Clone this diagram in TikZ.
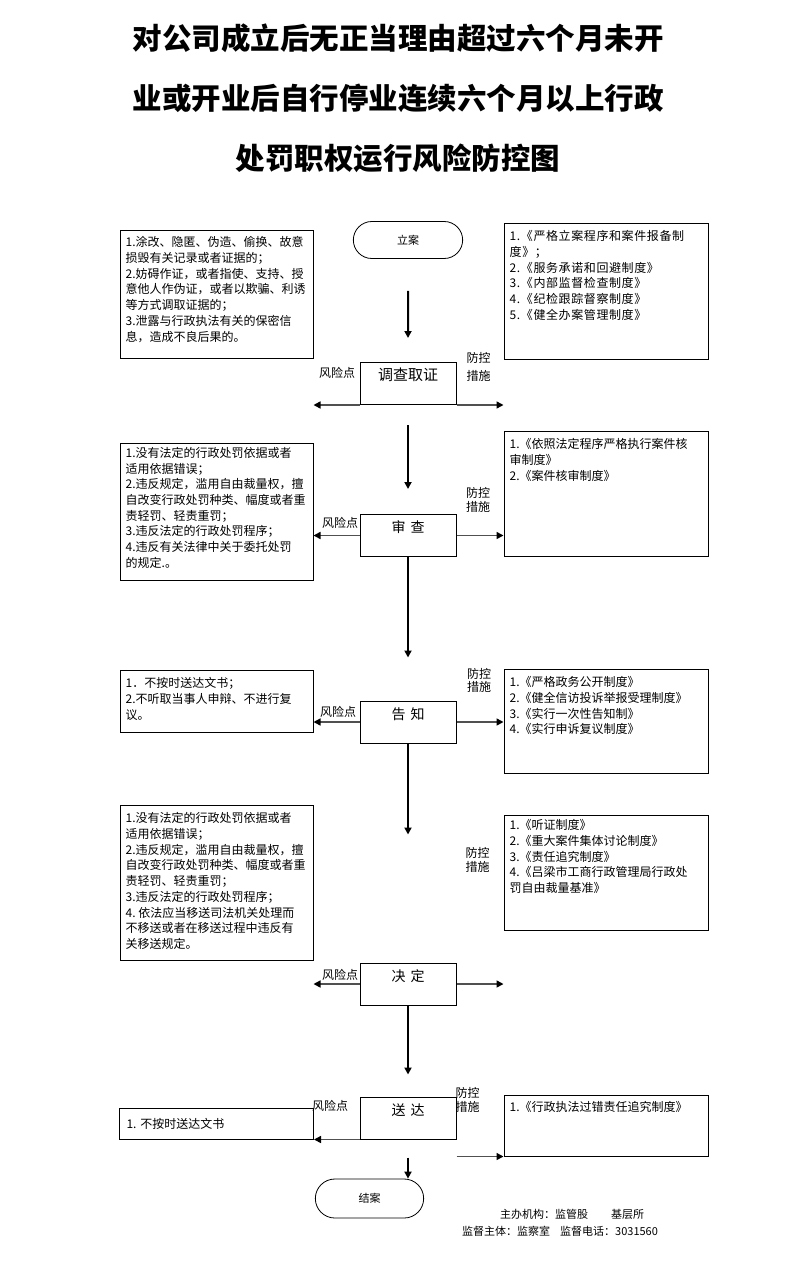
\documentclass[tikz,border=0pt]{standalone}
\usepackage{fontspec}
\setmainfont{Noto Sans CJK SC}
\usepackage{tikz}
\usetikzlibrary{arrows.meta,positioning,shapes.misc,calc}
\definecolor{arrgray}{RGB}{80,80,80}
\tikzset{
  % 标题
  title/.style={font=\fontsize{29.5}{31}\selectfont\bfseries, inner sep=0pt},
  % 流程节点(文字靠上)
  stage/.style={draw, line width=1pt, minimum width=96pt, inner sep=0pt,
    text height=18pt, text depth=24pt, font=\fontsize{14}{16}\selectfont},
  % 起止节点
  term/.style={draw, line width=0.8pt, rounded rectangle, minimum width=116pt,
    minimum height=37pt, font=\fontsize{11}{12}\selectfont},
  % 风险点框 / 防控措施框
  riskbox/.style={draw, line width=1pt, minimum width=193pt, minimum height=#1, inner sep=0pt},
  measbox/.style={draw, line width=1pt, minimum width=204pt, minimum height=#1, inner sep=0pt},
  boxtext/.style={anchor=north west, align=left, inner xsep=6pt, inner ysep=8pt,
    font=\fontsize{12}{15.7}\selectfont},
  % 小标签
  tag/.style={font=\fontsize{12}{13.5}\selectfont, align=center, inner sep=0pt},
  foot/.style={font=\fontsize{11}{13}\selectfont, inner sep=0pt, anchor=west},
  % 箭头
  varr/.style={-{Triangle[length=7pt,width=7pt]}, line width=2pt},
  harr/.style={-{Triangle[length=7pt,width=7pt,color=black]}, line width=1.5pt, arrgray},
}
\begin{document}
\begin{tikzpicture}[x=1pt,y=-1pt]
  \useasboundingbox (0,0) rectangle (793,1263);

  % 标题
  \node[title] (t1) at (398,38) {对公司成立后无正当理由超过六个月未开};
  \node[title] (t2) at (398,98) {业或开业后自行停业连续六个月以上行政};
  \node[title] (t3) at (398,158) {处罚职权运行风险防控图};

  % 流程
  \node[term] (la) at (408,240) {立案};
  \node[stage, font=\fontsize{15}{16}\selectfont] (dc) at (408,383.5) {调查取证};
  \node[stage] (sc) at (408,535.5) {审\hspace{5pt}查};
  \node[stage] (gz) at (408,722) {告\hspace{5pt}知};
  \node[stage] (jd) at (408,984) {决\hspace{5pt}定};
  \node[stage] (sd) at (408,1118) {送\hspace{5pt}达};
  \node[term, minimum width=115pt, minimum height=39pt] (ja) at (369.5,1198.5) {结案};

  % 风险点
  \node[riskbox=128pt] (r1) at (216.5,294) {};
  \node[boxtext, inner ysep=7pt] at (r1.north west) {1.涂改、隐匿、伪造、偷换、故意\\损毁有关记录或者证据的；\\2.妨碍作证，或者指使、支持、授\\意他人作伪证，或者以欺骗、利诱\\等方式调取证据的；\\3.泄露与行政执法有关的保密信\\息，造成不良后果的。};
  \node[riskbox=137pt] (r2) at (216.5,511.5) {};
  \node[boxtext, inner ysep=4.5pt] at (r2.north west) {1.没有法定的行政处罚依据或者\\适用依据错误；\\2.违反规定，滥用自由裁量权，擅\\自改变行政处罚种类、幅度或者重\\责轻罚、轻责重罚；\\3.违反法定的行政处罚程序；\\4.违反有关法律中关于委托处罚\\的规定.。};
  \node[riskbox=62pt] (r3) at (216.5,701) {};
  \node[boxtext] at (r3.north west) {1．不按时送达文书；\\2.不听取当事人申辩、不进行复\\议。};
  \node[riskbox=155pt] (r4) at (216.5,882.5) {};
  \node[boxtext] at (r4.north west) {1.没有法定的行政处罚依据或者\\适用依据错误；\\2.违反规定，滥用自由裁量权，擅\\自改变行政处罚种类、幅度或者重\\责轻罚、轻责重罚；\\3.违反法定的行政处罚程序；\\4.\ 依法应当移送司法机关处理而\\不移送或者在移送过程中违反有\\关移送规定。};
  \node[riskbox=31pt, align=left, text width=180pt, inner xsep=7pt,
    font=\fontsize{12}{14}\selectfont] (r5) at (216.5,1123.5) {1.\ 不按时送达文书};

  % 防控措施
  \node[measbox=136pt] (m1) at (606,291) {};
  \node[boxtext, font=\fontsize{12}{15.7}\selectfont\addfontfeatures{LetterSpace=5}] at (m1.north west) {1.《严格立案程序和案件报备制\\度》；\\2.《服务承诺和回避制度》\\3.《内部监督检查制度》\\4.《纪检跟踪督察制度》\\5.《健全办案管理制度》};
  \node[measbox=125pt] (m2) at (606,493.5) {};
  \node[boxtext] at (m2.north west) {1.《依照法定程序严格执行案件核\\审制度》\\2.《案件核审制度》};
  \node[measbox=104pt] (m3) at (606,721) {};
  \node[boxtext] at (m3.north west) {1.《严格政务公开制度》\\2.《健全信访投诉举报受理制度》\\3.《实行一次性告知制》\\4.《实行申诉复议制度》};
  \node[measbox=115pt] (m4) at (606,872.5) {};
  \node[boxtext, inner ysep=5pt] at (m4.north west) {1.《听证制度》\\2.《重大案件集体讨论制度》\\3.《责任追究制度》\\4.《吕梁市工商行政管理局行政处\\罚自由裁量基准》};
  \node[measbox=61pt] (m5) at (606,1125.5) {};
  \node[boxtext, inner ysep=7pt] at (m5.north west) {1.《行政执法过错责任追究制度》};

  % 标签
  \node[tag] (k1) at (337,373) {风险点};
  \node[tag, font=\fontsize{12}{18}\selectfont] (p1) at (478.5,366.5) {防控\\措施};
  \node[tag] (k2) at (340,523) {风险点};
  \node[tag] (p2) at (478,500) {防控\\措施};
  \node[tag] (k3) at (338,712) {风险点};
  \node[tag] (p3) at (479,680.5) {防控\\措施};
  \node[tag] (p4) at (477.5,860) {防控\\措施};
  \node[tag] (k4) at (340,975) {风险点};
  \node[tag] (k5) at (330,1106) {风险点};
  \node[tag] (p5) at (467.5,1100) {防控\\措施};

  % 竖向箭头
  \draw[varr, shorten <=32pt, shorten >=24pt] (la) -- (dc);
  \draw[varr, shorten <=20pt, shorten >=25pt] (dc) -- (sc);
  \draw[varr, shorten >=43pt] (sc) -- (gz);
  \draw[varr, shorten >=128pt] (gz) -- (jd);
  \draw[varr, shorten >=22pt] (jd) -- (sd);
  \draw[varr, shorten <=18pt] (sd.south) -- (sd.south |- ja.north);

  % 横向箭头
  \draw[harr] (dc.south west) -- (dc.south west -| r1.east);
  \draw[harr] (dc.south east) -- (dc.south east -| m1.west);
  \draw[harr] (sc.west) -- (sc.west -| r2.east);
  \draw[harr] (sc.east) -- (sc.east -| m2.west);
  \draw[harr] (gz.west) -- (gz.west -| r3.east);
  \draw[harr] (gz.east) -- (gz.east -| m3.west);
  \draw[harr] (jd.west) -- (jd.west -| r4.east);
  \draw[harr] (jd.east) -- (jd.east -| m4.west);
  \draw[harr] (sd.south west) -- (r5.south east);
  \draw[harr] (sd.east |- m5.south west) -- (m5.south west);

  % 落款
  \node[foot] (f1) at (500,1214) {主办机构：监管股\hspace{23pt}基层所};
  \node[foot] (f2) at (462,1231) {监督主体：监察室\hspace{10pt}监督电话：3031560};
\end{tikzpicture}
\end{document}
